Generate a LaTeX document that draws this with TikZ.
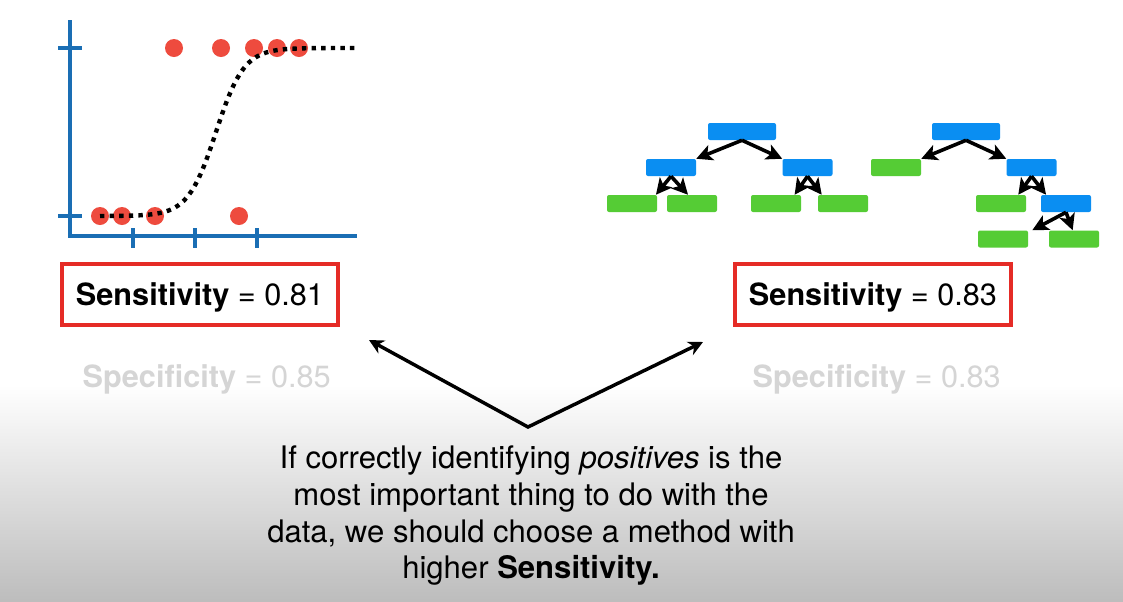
\documentclass[tikz,border=0pt]{standalone}
\usepackage{fontspec}
\setmainfont{TeX Gyre Heros}
\usetikzlibrary{arrows.meta,positioning}
\definecolor{axblue}{HTML}{1A6EB4}
\definecolor{dotred}{HTML}{EE4B3E}
\definecolor{boxred}{HTML}{E52B26}
\definecolor{treeblue}{HTML}{0A8EF2}
\definecolor{leafgreen}{HTML}{55CC35}
\definecolor{fadegray}{HTML}{D5D5D5}

\begin{document}
\begin{tikzpicture}[x=0.75pt, y=-0.75pt,
  lbl/.style={font=\fontsize{23}{27}\selectfont},
  sbox/.style={draw=boxred, line width=3pt, minimum width=207pt, minimum height=45.75pt, text depth=0pt, lbl},
  blu/.style={fill=treeblue, rounded corners=1.5pt, minimum width=37.5pt, minimum height=12.75pt, inner sep=0pt},
  grn/.style={blu, fill=leafgreen},
  tarr/.style={-{Stealth[length=12pt,width=12pt,inset=3pt]}, line width=2.7pt},
  bigarr/.style={{Stealth[length=11pt,width=11pt]}-{Stealth[length=11pt,width=11pt]}, line width=2.6pt}
]
\useasboundingbox (0,0) rectangle (1123,601);
\fill[white] (0,0) rectangle (1123,601);
\shade[top color=white, bottom color=black!26] (0,385) rectangle (1123,601);

\draw[axblue, line width=3pt] (70,20) -- (70,236) -- (357,236);
\draw[axblue, line width=3pt] (58,48) -- (82,48) (58,216) -- (82,216);
\foreach \tx in {133,195,257}
  \draw[axblue, line width=3pt] (\tx,228) -- (\tx,248);
\foreach \px in {174,221,254,277,299}
  \fill[dotred] (\px,48) circle[radius=6.75pt];
\foreach \px in {100,122,155,239}
  \fill[dotred] (\px,216) circle[radius=6.75pt];
\draw[line width=3.3pt, dash pattern=on 3.3pt off 3.9pt]
  plot[domain=100:357, samples=80] (\x,{216-168/(1+exp(-(\x-216)/14))});

\node[blu, minimum width=51pt] (lroot) at (742,131.5) {};
\node[blu] (lb1) at (671,167.5) {};
\node[blu] (lb2) at (807.5,167.5) {};
\node[grn] (lg1) at (632,203.5) {};
\node[grn] (lg2) at (692,203.5) {};
\node[grn] (lg3) at (776,203.5) {};
\node[grn] (lg4) at (843,203.5) {};
\draw[tarr] (lroot.south) -- (lb1.north east);
\draw[tarr] (lroot.south) -- (lb2.north west);
\draw[tarr] (lb1.south) -- ([xshift=-1pt]lg1.north east);
\draw[tarr] (lb1.south) -- ([xshift=-3pt]lg2.north);
\draw[tarr] (lb2.south) -- ([xshift=-5pt]lg3.north east);
\draw[tarr] (lb2.south) -- ([xshift=3pt]lg4.north west);

\node[blu, minimum width=51pt] (rroot) at (966,131.5) {};
\node[grn] (rg1) at (896,167.5) {};
\node[blu] (rb1) at (1031.5,167.5) {};
\node[grn] (rg2) at (1001,203.5) {};
\node[blu] (rb2) at (1066,203.5) {};
\node[grn] (rg3) at (1003,239) {};
\node[grn] (rg4) at (1074,239) {};
\draw[tarr] (rroot.south) -- (rg1.north east);
\draw[tarr] (rroot.south) -- (rb1.north west);
\draw[tarr] (rb1.south) -- ([xshift=-6pt]rg2.north east);
\draw[tarr] (rb1.south) -- ([xshift=4pt]rb2.north west);
\draw[tarr] (rb2.south) -- ([xshift=3pt]rg3.north east);
\draw[tarr] (rb2.south) -- ([xshift=-1pt]rg4.north);

\node[sbox] (sens1) at (200,294.5) {\textbf{Sensitivity} = 0.81};
\node[sbox] (sens2) at (873,294.5) {\textbf{Sensitivity} = 0.83};
\node[lbl, text=fadegray, anchor=base west] (spec1) at (78,387) {\textbf{Specificity} = 0.85};
\node[lbl, text=fadegray, anchor=base west] (spec2) at (748,387) {\textbf{Specificity} = 0.83};

\coordinate (vtx) at (528,427);
\coordinate (tipl) at (369,340);
\coordinate (tipr) at (703,342);
\draw[bigarr] (tipl) -- (vtx) -- (tipr);

\node[align=center, font=\fontsize{23.3}{27.5}\selectfont] (msg) at (531,516)
  {If correctly identifying \textit{positives} is the\\
   most important thing to do with the\\
   data, we should choose a method with\\
   higher \textbf{Sensitivity.}};
\end{tikzpicture}
\end{document}
